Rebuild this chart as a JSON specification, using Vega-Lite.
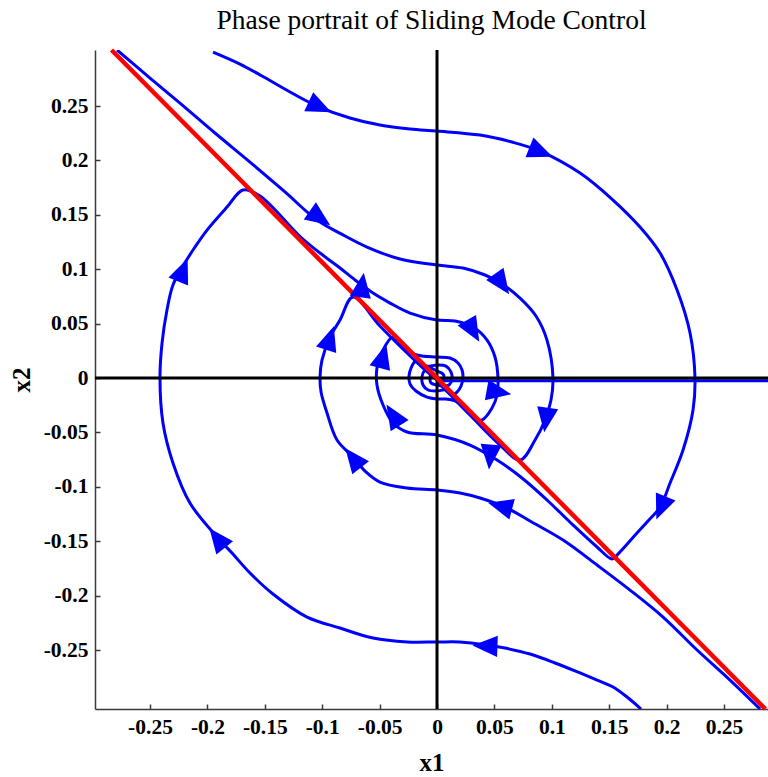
{
  "$schema": "https://vega.github.io/schema/vega-lite/v6.json",
  "width": 673,
  "height": 659,
  "autosize": {"type": "none"},
  "padding": {"left": 95, "top": 50, "right": 0, "bottom": 68},
  "background": "white",
  "title": {
    "text": "Phase portrait of Sliding Mode Control",
    "font": "Liberation Serif",
    "fontSize": 27.5,
    "fontWeight": "normal",
    "color": "black",
    "anchor": "middle",
    "frame": "group",
    "offset": 7
  },
  "datasets": {
    "traj": [
      {"id":"1","i":1,"x1":-0.1951,"x2":0.2996},{"id":"1","i":2,"x1":-0.1716,"x2":0.2886},{"id":"1","i":3,"x1":-0.1524,"x2":0.2776},{"id":"1","i":4,"x1":-0.1280,"x2":0.2629},{"id":"1","i":5,"x1":-0.1045,"x2":0.2500},{"id":"1","i":6,"x1":-0.0758,"x2":0.2390},{"id":"1","i":7,"x1":-0.0497,"x2":0.2325},{"id":"1","i":8,"x1":-0.0235,"x2":0.2289},{"id":"1","i":9,"x1":0.0000,"x2":0.2270},{"id":"1","i":10,"x1":0.0375,"x2":0.2233},{"id":"1","i":11,"x1":0.0653,"x2":0.2169},{"id":"1","i":12,"x1":0.0897,"x2":0.2086},{"id":"1","i":13,"x1":0.1246,"x2":0.1884},{"id":"1","i":14,"x1":0.1533,"x2":0.1636},{"id":"1","i":15,"x1":0.1768,"x2":0.1388},{"id":"1","i":16,"x1":0.1943,"x2":0.1149},{"id":"1","i":17,"x1":0.2091,"x2":0.0809},{"id":"1","i":18,"x1":0.2204,"x2":0.0414},{"id":"1","i":19,"x1":0.2247,"x2":0.0000},{"id":"1","i":20,"x1":0.2230,"x2":-0.0294},{"id":"1","i":21,"x1":0.2143,"x2":-0.0662},{"id":"1","i":22,"x1":0.2030,"x2":-0.0965},{"id":"1","i":23,"x1":0.1943,"x2":-0.1186},{"id":"1","i":24,"x1":0.1838,"x2":-0.1314},{"id":"1","i":25,"x1":0.1742,"x2":-0.1425},{"id":"1","i":26,"x1":0.1568,"x2":-0.1627},{"id":"1","i":27,"x1":0.1524,"x2":-0.1663},{"id":"1","i":28,"x1":0.1394,"x2":-0.1553},{"id":"1","i":29,"x1":0.1176,"x2":-0.1342},{"id":"1","i":30,"x1":0.0958,"x2":-0.1121},{"id":"1","i":31,"x1":0.0740,"x2":-0.0919},{"id":"1","i":32,"x1":0.0523,"x2":-0.0754},{"id":"1","i":33,"x1":0.0287,"x2":-0.0616},{"id":"1","i":34,"x1":0.0000,"x2":-0.0524},{"id":"1","i":35,"x1":-0.0261,"x2":-0.0496},{"id":"1","i":36,"x1":-0.0383,"x2":-0.0414},{"id":"1","i":37,"x1":-0.0470,"x2":-0.0248},{"id":"1","i":38,"x1":-0.0523,"x2":-0.0064},{"id":"1","i":39,"x1":-0.0523,"x2":0.0092},{"id":"1","i":40,"x1":-0.0479,"x2":0.0239},{"id":"1","i":41,"x1":-0.0383,"x2":0.0377},{"id":"1","i":42,"x1":-0.0279,"x2":0.0257},{"id":"1","i":43,"x1":-0.0209,"x2":0.0221},{"id":"1","i":44,"x1":-0.0131,"x2":0.0202},{"id":"1","i":45,"x1":0.0000,"x2":0.0193},{"id":"1","i":46,"x1":0.0113,"x2":0.0184},{"id":"1","i":47,"x1":0.0183,"x2":0.0138},{"id":"1","i":48,"x1":0.0218,"x2":0.0074},{"id":"1","i":49,"x1":0.0226,"x2":0.0000},{"id":"1","i":50,"x1":0.0209,"x2":-0.0074},{"id":"1","i":51,"x1":0.0174,"x2":-0.0129},{"id":"1","i":52,"x1":0.0131,"x2":-0.0156},{"id":"1","i":53,"x1":0.0078,"x2":-0.0110},{"id":"1","i":54,"x1":0.0000,"x2":-0.0119},{"id":"1","i":55,"x1":-0.0078,"x2":-0.0110},{"id":"1","i":56,"x1":-0.0122,"x2":-0.0064},{"id":"1","i":57,"x1":-0.0131,"x2":0.0009},{"id":"1","i":58,"x1":-0.0105,"x2":0.0074},{"id":"1","i":59,"x1":-0.0061,"x2":0.0092},{"id":"1","i":60,"x1":0.0000,"x2":0.0064},{"id":"1","i":61,"x1":0.0052,"x2":0.0037},{"id":"1","i":62,"x1":0.0061,"x2":-0.0009},{"id":"1","i":63,"x1":0.0035,"x2":-0.0046},{"id":"1","i":64,"x1":0.0000,"x2":-0.0009},
      {"id":"2","i":1,"x1":0.1777,"x2":-0.3042},{"id":"2","i":2,"x1":0.1655,"x2":-0.2932},{"id":"2","i":3,"x1":0.1533,"x2":-0.2840},{"id":"2","i":4,"x1":0.1394,"x2":-0.2776},{"id":"2","i":5,"x1":0.1246,"x2":-0.2711},{"id":"2","i":6,"x1":0.1028,"x2":-0.2619},{"id":"2","i":7,"x1":0.0810,"x2":-0.2537},{"id":"2","i":8,"x1":0.0592,"x2":-0.2482},{"id":"2","i":9,"x1":0.0436,"x2":-0.2454},{"id":"2","i":10,"x1":0.0200,"x2":-0.2426},{"id":"2","i":11,"x1":0.0000,"x2":-0.2426},{"id":"2","i":12,"x1":-0.0261,"x2":-0.2426},{"id":"2","i":13,"x1":-0.0557,"x2":-0.2390},{"id":"2","i":14,"x1":-0.0845,"x2":-0.2298},{"id":"2","i":15,"x1":-0.1132,"x2":-0.2197},{"id":"2","i":16,"x1":-0.1429,"x2":-0.1985},{"id":"2","i":17,"x1":-0.1629,"x2":-0.1792},{"id":"2","i":18,"x1":-0.1786,"x2":-0.1608},{"id":"2","i":19,"x1":-0.1916,"x2":-0.1461},{"id":"2","i":20,"x1":-0.2152,"x2":-0.1149},{"id":"2","i":21,"x1":-0.2300,"x2":-0.0781},{"id":"2","i":22,"x1":-0.2387,"x2":-0.0414},{"id":"2","i":23,"x1":-0.2413,"x2":0.0000},{"id":"2","i":24,"x1":-0.2395,"x2":0.0322},{"id":"2","i":25,"x1":-0.2352,"x2":0.0625},{"id":"2","i":26,"x1":-0.2300,"x2":0.0855},{"id":"2","i":27,"x1":-0.2213,"x2":0.1029},{"id":"2","i":28,"x1":-0.2108,"x2":0.1204},{"id":"2","i":29,"x1":-0.2003,"x2":0.1360},{"id":"2","i":30,"x1":-0.1829,"x2":0.1571},{"id":"2","i":31,"x1":-0.1690,"x2":0.1728},{"id":"2","i":32,"x1":-0.1542,"x2":0.1673},{"id":"2","i":33,"x1":-0.1193,"x2":0.1301},{"id":"2","i":34,"x1":-0.1019,"x2":0.1149},{"id":"2","i":35,"x1":-0.0845,"x2":0.1011},{"id":"2","i":36,"x1":-0.0714,"x2":0.0901},{"id":"2","i":37,"x1":-0.0653,"x2":0.0855},{"id":"2","i":38,"x1":-0.0557,"x2":0.0781},{"id":"2","i":39,"x1":-0.0409,"x2":0.0689},{"id":"2","i":40,"x1":-0.0235,"x2":0.0597},{"id":"2","i":41,"x1":0.0000,"x2":0.0533},{"id":"2","i":42,"x1":0.0157,"x2":0.0524},{"id":"2","i":43,"x1":0.0314,"x2":0.0469},{"id":"2","i":44,"x1":0.0436,"x2":0.0349},{"id":"2","i":45,"x1":0.0505,"x2":0.0193},{"id":"2","i":46,"x1":0.0531,"x2":0.0000},{"id":"2","i":47,"x1":0.0523,"x2":-0.0156},{"id":"2","i":48,"x1":0.0479,"x2":-0.0276},{"id":"2","i":49,"x1":0.0392,"x2":-0.0386},{"id":"2","i":50,"x1":0.0340,"x2":-0.0377},{"id":"2","i":51,"x1":0.0244,"x2":-0.0276},{"id":"2","i":52,"x1":0.0157,"x2":-0.0211},{"id":"2","i":53,"x1":0.0070,"x2":-0.0193},{"id":"2","i":54,"x1":0.0000,"x2":-0.0193},{"id":"2","i":55,"x1":-0.0087,"x2":-0.0175},{"id":"2","i":56,"x1":-0.0183,"x2":-0.0119},{"id":"2","i":57,"x1":-0.0235,"x2":-0.0055},{"id":"2","i":58,"x1":-0.0244,"x2":0.0018},{"id":"2","i":59,"x1":-0.0226,"x2":0.0092},{"id":"2","i":60,"x1":-0.0183,"x2":0.0156},{"id":"2","i":61,"x1":-0.0096,"x2":0.0110},{"id":"2","i":62,"x1":0.0000,"x2":0.0119},{"id":"2","i":63,"x1":0.0078,"x2":0.0110},{"id":"2","i":64,"x1":0.0122,"x2":0.0055},{"id":"2","i":65,"x1":0.0131,"x2":-0.0009},{"id":"2","i":66,"x1":0.0105,"x2":-0.0064},{"id":"2","i":67,"x1":0.0061,"x2":-0.0074},{"id":"2","i":68,"x1":0.0000,"x2":-0.0064},{"id":"2","i":69,"x1":-0.0052,"x2":-0.0046},{"id":"2","i":70,"x1":-0.0061,"x2":0.0000},{"id":"2","i":71,"x1":-0.0044,"x2":0.0046},{"id":"2","i":72,"x1":0.0000,"x2":0.0000},
      {"id":"3","i":1,"x1":-0.2787,"x2":0.3015},{"id":"3","i":2,"x1":-0.2500,"x2":0.2757},{"id":"3","i":3,"x1":-0.2239,"x2":0.2527},{"id":"3","i":4,"x1":-0.1934,"x2":0.2252},{"id":"3","i":5,"x1":-0.1629,"x2":0.1985},{"id":"3","i":6,"x1":-0.1324,"x2":0.1710},{"id":"3","i":7,"x1":-0.1045,"x2":0.1452},{"id":"3","i":8,"x1":-0.0801,"x2":0.1305},{"id":"3","i":9,"x1":-0.0610,"x2":0.1204},{"id":"3","i":10,"x1":-0.0322,"x2":0.1094},{"id":"3","i":11,"x1":0.0000,"x2":0.1039},{"id":"3","i":12,"x1":0.0226,"x2":0.1011},{"id":"3","i":13,"x1":0.0418,"x2":0.0947},{"id":"3","i":14,"x1":0.0566,"x2":0.0864},{"id":"3","i":15,"x1":0.0723,"x2":0.0735},{"id":"3","i":16,"x1":0.0862,"x2":0.0570},{"id":"3","i":17,"x1":0.0958,"x2":0.0349},{"id":"3","i":18,"x1":0.1010,"x2":0.0000},{"id":"3","i":19,"x1":0.0993,"x2":-0.0202},{"id":"3","i":20,"x1":0.0941,"x2":-0.0386},{"id":"3","i":21,"x1":0.0854,"x2":-0.0570},{"id":"3","i":22,"x1":0.0723,"x2":-0.0754},{"id":"3","i":23,"x1":0.0549,"x2":-0.0616},{"id":"3","i":24,"x1":0.0287,"x2":-0.0340},{"id":"3","i":25,"x1":0.0113,"x2":-0.0152},{"id":"3","i":26,"x1":0.0000,"x2":-0.0032},
      {"id":"4","i":1,"x1":0.2814,"x2":-0.3042},{"id":"4","i":2,"x1":0.2552,"x2":-0.2776},{"id":"4","i":3,"x1":0.2265,"x2":-0.2500},{"id":"4","i":4,"x1":0.1969,"x2":-0.2197},{"id":"4","i":5,"x1":0.1681,"x2":-0.1949},{"id":"4","i":6,"x1":0.1394,"x2":-0.1719},{"id":"4","i":7,"x1":0.1098,"x2":-0.1489},{"id":"4","i":8,"x1":0.0810,"x2":-0.1314},{"id":"4","i":9,"x1":0.0610,"x2":-0.1195},{"id":"4","i":10,"x1":0.0375,"x2":-0.1103},{"id":"4","i":11,"x1":0.0200,"x2":-0.1057},{"id":"4","i":12,"x1":0.0000,"x2":-0.1029},{"id":"4","i":13,"x1":-0.0261,"x2":-0.1011},{"id":"4","i":14,"x1":-0.0497,"x2":-0.0956},{"id":"4","i":15,"x1":-0.0627,"x2":-0.0855},{"id":"4","i":16,"x1":-0.0732,"x2":-0.0726},{"id":"4","i":17,"x1":-0.0871,"x2":-0.0570},{"id":"4","i":18,"x1":-0.0958,"x2":-0.0322},{"id":"4","i":19,"x1":-0.1010,"x2":-0.0129},{"id":"4","i":20,"x1":-0.1019,"x2":0.0009},{"id":"4","i":21,"x1":-0.1002,"x2":0.0165},{"id":"4","i":22,"x1":-0.0932,"x2":0.0377},{"id":"4","i":23,"x1":-0.0845,"x2":0.0533},{"id":"4","i":24,"x1":-0.0732,"x2":0.0744},{"id":"4","i":25,"x1":-0.0497,"x2":0.0478},{"id":"4","i":26,"x1":-0.0279,"x2":0.0248},{"id":"4","i":27,"x1":-0.0105,"x2":0.0074},{"id":"4","i":28,"x1":0.0000,"x2":-0.0018}
    ],
    "band": [{"x1": 0.0, "x2": -0.0025}, {"x1": 0.2883, "x2": -0.0025}],
    "surface": [{"x1": -0.2835, "x2": 0.3015}, {"x1": 0.2860, "x2": -0.3042}],
    "arrows": [
      {"x1":-0.1019,"x2":0.2491,"dir":25},
      {"x1":0.0906,"x2":0.2077,"dir":22},
      {"x1":0.1951,"x2":-0.1195,"dir":112},
      {"x1":-0.1019,"x2":0.1471,"dir":35},
      {"x1":0.0566,"x2":0.0864,"dir":55},
      {"x1":0.0949,"x2":-0.0386,"dir":98},
      {"x1":-0.0653,"x2":0.0855,"dir":278},
      {"x1":0.0314,"x2":0.0432,"dir":60},
      {"x1":0.0540,"x2":-0.0129,"dir":10},
      {"x1":0.0549,"x2":-0.1176,"dir":195},
      {"x1":-0.0732,"x2":-0.0735,"dir":232},
      {"x1":-0.0932,"x2":0.0368,"dir":288},
      {"x1":0.0462,"x2":-0.0726,"dir":95},
      {"x1":-0.0383,"x2":-0.0340,"dir":238},
      {"x1":-0.0470,"x2":0.0202,"dir":285},
      {"x1":0.0418,"x2":-0.2463,"dir":182},
      {"x1":-0.1916,"x2":-0.1471,"dir":232},
      {"x1":-0.2213,"x2":0.0993,"dir":292}
    ]
  },
  "layer": [
    {
      "data": {"name": "traj"},
      "mark": {"type": "line", "color": "#0000ff", "strokeWidth": 3, "interpolate": "catmull-rom", "clip": true},
      "encoding": {
        "x": {
          "field": "x1", "type": "quantitative",
          "scale": {"domain": [-0.2979, 0.2883], "nice": false, "zero": false},
          "axis": {
            "title": "x1",
            "values": [-0.25,-0.2,-0.15,-0.1,-0.05,0,0.05,0.1,0.15,0.2,0.25],
            "labelExpr": "'' + datum.value",
            "titlePadding": 13
          }
        },
        "y": {
          "field": "x2", "type": "quantitative",
          "scale": {"domain": [-0.3042, 0.3015], "nice": false, "zero": false},
          "axis": {
            "title": "x2",
            "values": [-0.25,-0.2,-0.15,-0.1,-0.05,0,0.05,0.1,0.15,0.2,0.25],
            "labelExpr": "'' + datum.value",
            "titlePadding": 9
          }
        },
        "detail": {"field": "id"},
        "order": {"field": "i", "type": "quantitative"}
      }
    },
    {
      "data": {"name": "band"},
      "mark": {"type": "line", "color": "#0000ff", "strokeWidth": 3.2},
      "encoding": {
        "x": {"field": "x1", "type": "quantitative"},
        "y": {"field": "x2", "type": "quantitative"}
      }
    },
    {
      "data": {"values": [{}]},
      "mark": {"type": "rule", "color": "black", "strokeWidth": 3},
      "encoding": {"x": {"datum": 0, "type": "quantitative"}}
    },
    {
      "data": {"values": [{}]},
      "mark": {"type": "rule", "color": "black", "strokeWidth": 3},
      "encoding": {"y": {"datum": 0, "type": "quantitative"}}
    },
    {
      "data": {"name": "surface"},
      "mark": {"type": "line", "color": "#ff0000", "strokeWidth": 4.5},
      "encoding": {
        "x": {"field": "x1", "type": "quantitative"},
        "y": {"field": "x2", "type": "quantitative"}
      }
    },
    {
      "data": {"name": "arrows"},
      "mark": {"type": "point", "shape": "M1,0L-1,-0.85L-1,0.85Z", "filled": true, "color": "#0000ff", "opacity": 1, "size": 620, "strokeWidth": 0},
      "encoding": {
        "x": {"field": "x1", "type": "quantitative"},
        "y": {"field": "x2", "type": "quantitative"},
        "angle": {"field": "dir", "type": "quantitative", "scale": null}
      }
    }
  ],
  "config": {
    "view": {"stroke": null},
    "axis": {
      "grid": false,
      "domainColor": "#3a3a3a",
      "domainWidth": 1.5,
      "tickColor": "#3a3a3a",
      "tickWidth": 1.5,
      "tickSize": -5,
      "labelPadding": 12,
      "labelOverlap": false,
      "labelFont": "Liberation Serif",
      "labelFontWeight": "bold",
      "labelFontSize": 21.5,
      "labelColor": "black",
      "titleFont": "Liberation Serif",
      "titleFontWeight": "bold",
      "titleFontSize": 25,
      "titleColor": "black"
    }
  }
}
